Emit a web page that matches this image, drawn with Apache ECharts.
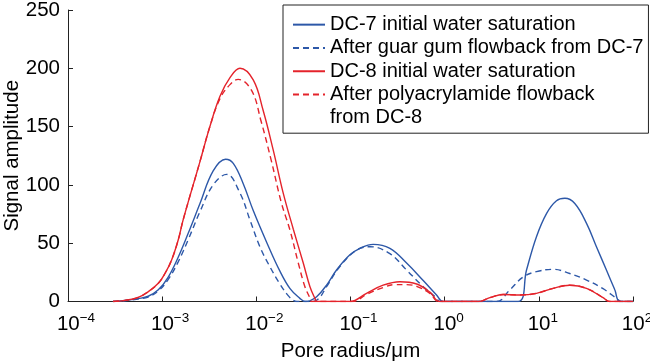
<!DOCTYPE html>
<html><head><meta charset="utf-8">
<script src="https://cdn.jsdelivr.net/npm/echarts@6/dist/echarts.min.js"></script>
<style>html,body{margin:0;padding:0;background:#fff}#c{width:650px;height:364px}</style>
</head><body><div id="c"></div>
<script>
const seriesNames = [
  'DC-7 initial water saturation',
  'After guar gum flowback from DC-7',
  'DC-8 initial water saturation',
  'After polyacrylamide flowback from DC-8'
];
const xTickExponents = [-4, -3, -2, -1, 0, 1, 2];
const yTicks = [0, 50, 100, 150, 200, 250];

// [pore radius (µm), signal amplitude]
const dc7Initial = [[3.0e-4,0],[4.03e-4,0.8],[5.57e-4,2.5],[7.11e-4,4.5],[9.1e-4,10],[1.16e-3,21],[1.48e-3,38],[1.89e-3,58.5],[2.52e-3,84],[3.48e-3,112],[4.72e-3,122],[5.69e-3,118.5],[7.26e-3,101],[9.27e-3,78],[1.30e-2,50],[1.78e-2,26],[2.28e-2,11],[2.90e-2,2.7],[3.28e-2,0],[3.7e-2,0.6],[4.37e-2,4],[5.57e-2,14],[7.11e-2,27],[9.86e-2,40],[0.126,45.6],[0.174,49],[0.262,45.6],[0.394,33],[0.592,18],[0.820,5.6],[0.964,0],[6.03,0],[7.40,27],[9.44,55.6],[12.1,75.6],[15.4,86.4],[18.9,88.5],[24.1,84],[32.1,67],[40.9,47],[52.2,27],[64.1,10],[72.4,0],[100,0]];
const dc7Flowback = [[3.0e-4,0],[4.03e-4,0.7],[5.57e-4,2.2],[7.11e-4,3.8],[9.1e-4,9],[1.16e-3,19],[1.48e-3,34],[1.89e-3,53],[2.52e-3,77],[3.48e-3,100],[4.84e-3,109],[6.70e-3,93],[8.55e-3,70],[1.09e-2,47],[1.39e-2,30],[1.78e-2,15],[2.18e-2,5],[2.47e-2,1],[2.7e-2,0],[3.9e-2,0],[4.6e-2,2.5],[5.57e-2,12.7],[7.71e-2,30],[0.116,44],[0.161,47],[0.262,41],[0.394,27],[0.592,12.7],[0.820,3],[0.889,0],[3.56,0],[4.92,10],[6.81,21],[9.44,25.6],[14.2,27.6],[21.3,24],[32.1,18.4],[48.1,11],[66.8,2.7],[75.5,0],[100,0]];
const dc8Initial = [[3.0e-4,0],[4.03e-4,1],[5.57e-4,3.6],[7.11e-4,8.4],[9.1e-4,15.6],[1.07e-3,24],[1.26e-3,35.6],[1.48e-3,52.7],[1.67e-3,70],[2.52e-3,120],[3.21e-3,150],[4.11e-3,176],[5.25e-3,192],[6.70e-3,200],[9.27e-3,190],[1.18e-2,164],[1.51e-2,130],[1.93e-2,93],[2.47e-2,62],[3.15e-2,33],[3.71e-2,12.7],[4.19e-2,2.7],[4.4e-2,0],[9.86e-2,0],[0.148,7],[0.222,14],[0.334,17],[0.504,15],[0.697,8],[0.889,0],[2.27,0],[3.02,3.3],[4.18,6],[6.28,5.6],[9.44,7],[14.2,11.3],[21.3,14],[32.1,11.3],[48.1,3.3],[56.8,0],[100,0]];
const dc8Flowback = [[3.0e-4,0],[4.03e-4,1],[5.57e-4,3.6],[7.11e-4,8.4],[9.1e-4,15.6],[1.07e-3,24],[1.26e-3,35.6],[1.48e-3,52.7],[1.67e-3,70],[2.52e-3,120],[3.21e-3,150],[4.11e-3,174],[5.25e-3,186],[6.43e-3,190.5],[8.9e-3,181],[1.12e-2,155],[1.44e-2,121],[1.84e-2,85],[2.28e-2,61],[2.79e-2,33],[3.28e-2,12.7],[3.71e-2,3],[3.86e-2,0],[0.105,0],[0.148,6],[0.222,12],[0.296,14.5],[0.394,14.5],[0.504,13],[0.697,7],[0.86,0],[2.27,0],[3.02,3.3],[4.18,6],[6.28,5.6],[9.44,7],[14.2,11.3],[21.3,14],[32.1,11.3],[48.1,3.3],[56.8,0],[100,0]];

const BLUE = '#2d58a8', RED = '#e4232b';
const FONT = 'Liberation Sans';
const chart = echarts.init(document.getElementById('c'), null, {renderer: 'canvas'});

function mk(name, data, color, dashed) {
  return {
    name, type: 'line', data, smooth: 0.4, symbol: 'none', showSymbol: false,
    clip: true,
    lineStyle: {color, width: 1.4, type: dashed ? [6, 4] : 'solid'},
    itemStyle: {color}
  };
}

chart.setOption({
  animation: false,
  backgroundColor: '#fff',
  grid: {left: 68, right: 17, top: 10, bottom: 62.5, containLabel: false, outerBoundsMode: 'none'},
  xAxis: {
    type: 'log', logBase: 10, min: Math.pow(10, xTickExponents[0]), max: Math.pow(10, xTickExponents[xTickExponents.length-1]),
    splitNumber: 6,
    name: 'Pore radius/μm', nameLocation: 'middle', nameGap: 39, nameMoveOverlap: false,
    nameTextStyle: {fontSize: 20.5, color: '#000', fontFamily: FONT},
    axisLine: {lineStyle: {color: '#222', width: 1}},
    axisTick: {inside: true, length: 5, lineStyle: {color: '#222'}},
    minorTick: {show: false},
    splitLine: {show: false},
    axisLabel: {
      margin: 10, color: '#000', fontFamily: FONT,
      alignMinLabel: 'center', alignMaxLabel: 'center',
      formatter: v => {
        const e = Math.round(Math.log10(v));
        const s = e < 0 ? '−' + (-e) : String(e);
        return (e < 0 ? '{pn|}' : '{pp|}') + '{b|10}{s|' + s + '}';
      },
      rich: {
        b: {fontSize: 20.5, fontFamily: FONT, color: '#000'},
        s: {fontSize: 13.5, fontFamily: FONT, color: '#000', padding: [0, 0, 12, 0]},
        pn: {width: 16},
        pp: {width: 8}
      }
    }
  },
  yAxis: {
    type: 'value', min: yTicks[0], max: yTicks[yTicks.length-1], interval: 50,
    name: 'Signal amplitude', nameLocation: 'middle', nameGap: 45, nameMoveOverlap: false,
    nameTextStyle: {fontSize: 20.5, color: '#000', fontFamily: FONT},
    axisLine: {show: true, lineStyle: {color: '#222', width: 1}},
    axisTick: {show: true, inside: true, length: 5, lineStyle: {color: '#222'}},
    splitLine: {show: false},
    axisLabel: {margin: 8, fontSize: 20.5, color: '#000', fontFamily: FONT}
  },
  legend: {
    orient: 'vertical', left: 283, top: 5,
    padding: [8, 5, 27, 9],
    itemWidth: 32, itemHeight: 12, itemGap: 0,
    borderColor: '#222', borderWidth: 1, backgroundColor: '#fff',
    itemStyle: {color: 'transparent', borderWidth: 0, opacity: 0},
    textStyle: {fontSize: 20, lineHeight: 23.3, color: '#000', fontFamily: FONT},
    formatter: n => n === seriesNames[3] ? 'After polyacrylamide flowback' : n,
    data: seriesNames
  },
  graphic: [{
    type: 'text', left: 330, top: 107, z: 100,
    style: {text: 'from DC-8', fontSize: 20, fontFamily: FONT, fill: '#000'}
  }],
  series: [
    mk(seriesNames[0], dc7Initial, BLUE, false),
    mk(seriesNames[1], dc7Flowback, BLUE, true),
    mk(seriesNames[2], dc8Initial, RED, false),
    mk(seriesNames[3], dc8Flowback, RED, true)
  ]
});
</script></body></html>
